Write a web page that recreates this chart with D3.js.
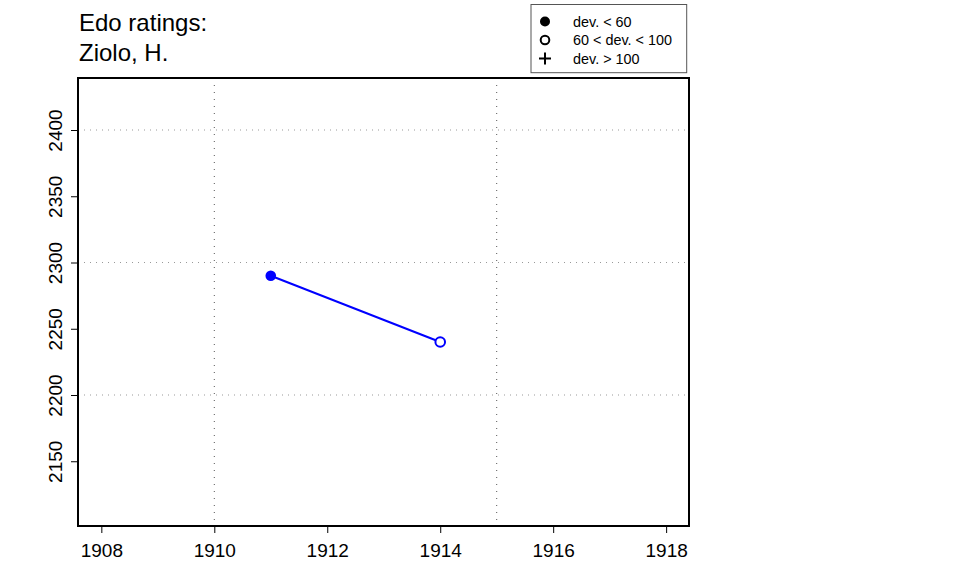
<!DOCTYPE html>
<html><head><meta charset="utf-8">
<script src="https://cdn.jsdelivr.net/npm/d3@7"></script>
<style>body{margin:0;background:#fff;}svg{display:block;font-family:"Liberation Sans",Arial,sans-serif;}</style>
</head><body>
<script>
const years = [1911, 1914];
const ratings = [2290, 2240];
const devClass = ["low", "mid"]; // low: dev<60 filled, mid: 60<dev<100 open
const xTicks = [1908, 1910, 1912, 1914, 1916, 1918];
const yTicks = [2150, 2200, 2250, 2300, 2350, 2400];
const xGrid = [1910, 1915];
const yGrid = [2200, 2300, 2400];
const titleLines = ["Edo ratings:", "Ziolo, H."];
const legendLabels = ["dev. < 60", "60 < dev. < 100", "dev. > 100"];

const W = 960, H = 576;
const box = {l: 78, r: 689, t: 78, b: 526};
const FONT = "Liberation Sans, Arial, sans-serif";
const svg = d3.select("body").append("svg").attr("width", W).attr("height", H);

const x = d3.scaleLinear().domain([1910, 1915]).range([214.3, 496.7]);
const y = d3.scaleLinear().domain([2400, 2300]).range([130, 262.5]);

// grid
svg.append("g").selectAll("line").data(yGrid).join("line")
  .attr("x1", box.l).attr("x2", box.r).attr("y1", d => y(d)).attr("y2", d => y(d))
  .attr("stroke", "#999").attr("stroke-width", 1).attr("stroke-dasharray", "1,5");
svg.append("g").selectAll("line").data(xGrid).join("line")
  .attr("y1", box.t).attr("y2", box.b).attr("x1", d => x(d)).attr("x2", d => x(d))
  .attr("stroke", "#555").attr("stroke-width", 1).attr("stroke-dasharray", "1,6");

// axes
const xAxis = d3.axisBottom(x).tickValues(xTicks).tickFormat(d3.format("d")).tickSize(7).tickPadding(0);
const gx = svg.append("g").attr("transform", `translate(0,${box.b})`).call(xAxis);
gx.select(".domain").remove();
gx.selectAll("text").attr("font-size", 19).attr("fill", "#000").attr("font-family", FONT)
  .attr("dy", null).attr("y", 30.5);
gx.selectAll("line").attr("stroke", "#000");

const yAxis = d3.axisLeft(y).tickValues(yTicks).tickFormat(d3.format("d")).tickSize(7);
const gy = svg.append("g").attr("transform", `translate(${box.l},0)`).call(yAxis);
gy.select(".domain").remove();
gy.selectAll("line").attr("stroke", "#000");
gy.selectAll("text")
  .attr("font-size", 19).attr("fill", "#000").attr("font-family", FONT)
  .attr("text-anchor", "middle").attr("x", null).attr("dy", null)
  .attr("transform", "translate(-22,0) rotate(-90)").attr("y", 6);

// box
svg.append("rect").attr("x", box.l).attr("y", box.t).attr("width", box.r - box.l).attr("height", box.b - box.t)
  .attr("fill", "none").attr("stroke", "#000").attr("stroke-width", 2);

// data
const pts = years.map((yr, i) => ({yr, r: ratings[i], c: devClass[i]}));
svg.append("path").datum(pts)
  .attr("d", d3.line().x(d => x(d.yr)).y(d => y(d.r)))
  .attr("fill", "none").attr("stroke", "#0000ff").attr("stroke-width", 2);
svg.append("g").selectAll("circle").data(pts).join("circle")
  .attr("cx", d => x(d.yr)).attr("cy", d => y(d.r)).attr("r", d => d.c === "low" ? 5.3 : 4.8)
  .attr("fill", d => d.c === "low" ? "#0000ff" : "#fff")
  .attr("stroke", "#0000ff").attr("stroke-width", d => d.c === "low" ? 0 : 2);

// title
svg.append("g").selectAll("text").data(titleLines).join("text")
  .attr("x", 79).attr("y", (d, i) => 31 + i * 30).attr("font-size", 24).attr("fill", "#000")
  .attr("font-family", FONT).text(d => d);

// legend
const lg = svg.append("g");
lg.append("rect").attr("x", 531).attr("y", 4.5).attr("width", 155.7).attr("height", 68.2)
  .attr("fill", "#fff").attr("stroke", "#555").attr("stroke-width", 1);
const rows = lg.selectAll("g").data(legendLabels).join("g")
  .attr("transform", (d, i) => `translate(0,${21.5 + i * 18.5})`);
rows.append("text").attr("x", 573).attr("y", 5).attr("font-size", 14.4).attr("fill", "#000")
  .attr("font-family", FONT).text(d => d);
rows.filter((d, i) => i === 0).append("circle").attr("cx", 545).attr("cy", 0).attr("r", 5).attr("fill", "#000");
rows.filter((d, i) => i === 1).append("circle").attr("cx", 545).attr("cy", 0).attr("r", 4.3).attr("fill", "none").attr("stroke", "#000").attr("stroke-width", 2);
rows.filter((d, i) => i === 2).append("path").attr("d", "M539,0H551M545,-6V6").attr("stroke", "#000").attr("stroke-width", 2);
</script>
</body></html>
